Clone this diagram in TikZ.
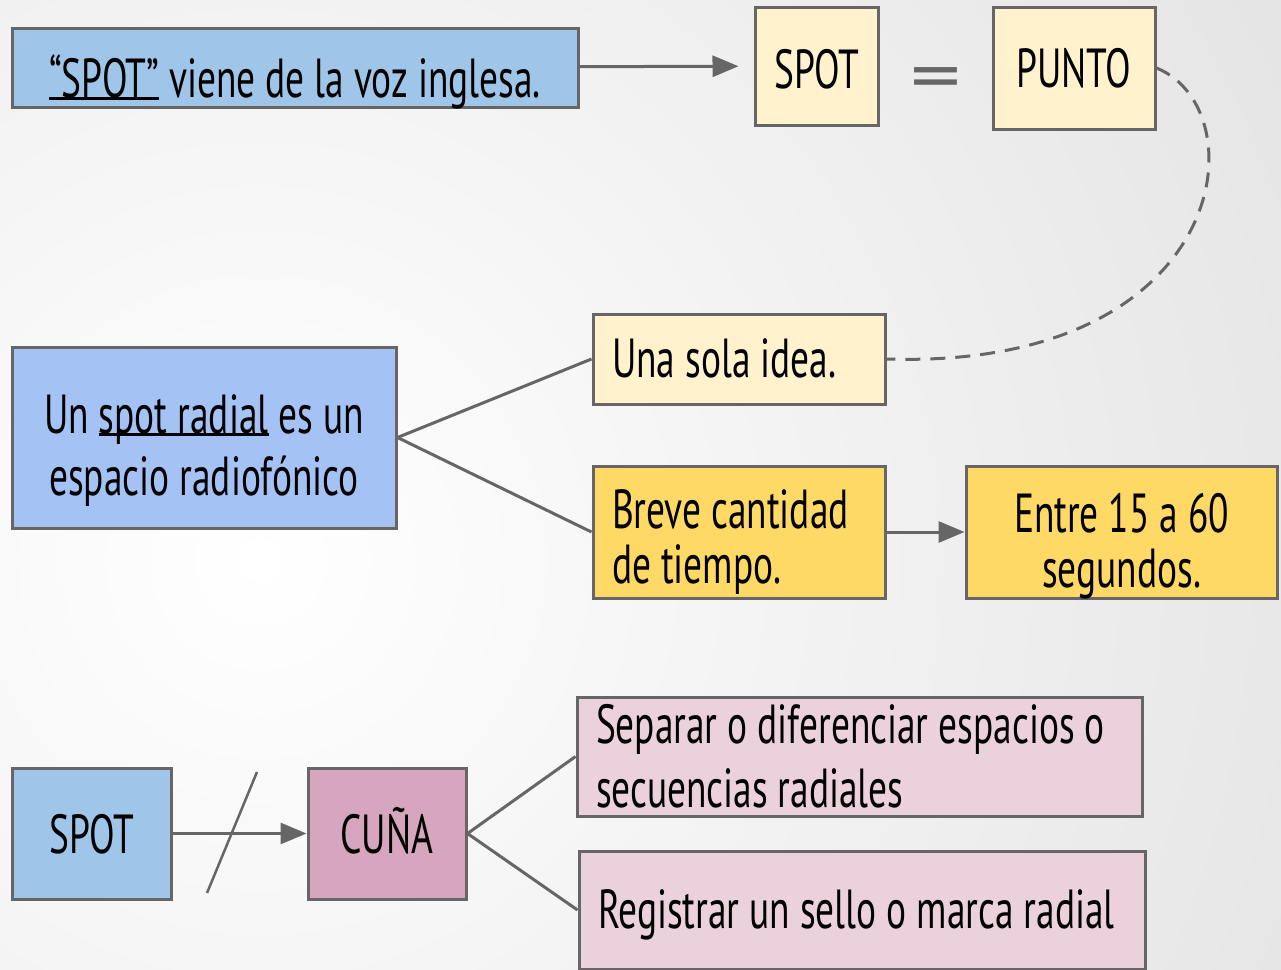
\documentclass[tikz,border=0pt]{standalone}
\usepackage{fontspec}
\setmainfont{PT Sans}[FakeStretch=0.68]
\usetikzlibrary{positioning, arrows.meta}

\definecolor{lightblue}{HTML}{9FC5E8}
\definecolor{paleblue}{HTML}{A4C2F4}
\definecolor{cream}{HTML}{FFF2CC}
\definecolor{gold}{HTML}{FFD966}
\definecolor{rose}{HTML}{D5A6BD}
\definecolor{palerose}{HTML}{EAD1DC}
\definecolor{edgegray}{HTML}{666666}
\definecolor{bggray}{HTML}{C4C4C4}

% thick underline close to the baseline
\newcommand{\spotul}[1]{\setbox0\hbox{#1}\rlap{\rule[-2.5pt]{\wd0}{3pt}}\box0\relax}

\begin{document}
\begin{tikzpicture}[x=1pt, y=-1pt]
            % Block styles
            \tikzstyle{block} = [rectangle, draw=edgegray, line width=3pt, inner sep=0pt, text centered, font=\fontsize{55}{62}\selectfont]
            \tikzstyle{leftblock} = [block, inner xsep=19pt, align=flush left]
            \tikzstyle{link} = [draw=edgegray, line width=3pt]
            \tikzstyle{arrow} = [link, -{Triangle[length=26pt, width=21pt]}]

            % Background
            \useasboundingbox (0,0) rectangle (1281,969);
            \begin{scope}
                \clip (0,0) rectangle (1281,969);
                \shade[inner color=white, outer color=bggray] (260,560) circle (2600pt);
            \end{scope}

            % Top row
            \node[block, fill=lightblue, minimum width=566pt, minimum height=79pt, text height=69pt, text depth=10pt] (origin) at (295,67.5) {\spotul{“SPOT”} viene de la voz inglesa.};
            \node[block, fill=cream, minimum width=123pt, minimum height=118pt, text height=44pt, text depth=0pt] (spot1) at (816.5,66) {SPOT};
            \node[font=\fontsize{55}{62}\selectfont, text=edgegray] (equals) at (936,85) {\scalebox{2.7}[1.35]{=}};
            \node[block, fill=cream, minimum width=162pt, minimum height=122pt, text height=38pt, text depth=0pt] (punto) at (1074,68) {PUNTO};

            % Definition
            \node[block, fill=paleblue, minimum width=384pt, minimum height=181pt, align=center, text height=128pt, text depth=13pt] (definition) at (204,437.5) {Un \spotul{spot radial} es un\\espacio radiofónico};
            \node[leftblock, fill=cream, text width=254pt, minimum height=90pt, text height=49pt, text depth=13pt] (idea) at (739,359) {Una sola idea.};
            \node[leftblock, fill=gold, text width=254pt, minimum height=132pt, text height=60pt, text depth=68pt, font=\fontsize{55}{55}\selectfont] (brief) at (739,532) {Breve cantidad\\de tiempo.};
            \node[block, fill=gold, minimum width=311pt, minimum height=132pt, align=center, text height=120pt, text depth=10pt, font=\fontsize{55}{55}\selectfont] (seconds) at (1121.5,532) {Entre 15 a 60\\segundos.};

            % Bottom row
            \node[block, fill=lightblue, minimum width=159pt, minimum height=131pt, text height=40pt, text depth=0pt] (spot2) at (91.5,833.5) {SPOT};
            \node[block, fill=rose, minimum width=158pt, minimum height=131pt, text height=40pt, text depth=0pt] (cuna) at (387,833.5) {CUÑA};
            \node[leftblock, fill=palerose, text width=527pt, minimum height=119pt, text height=39pt, text depth=66pt, font=\fontsize{55}{64}\selectfont] (separate) at (859.5,756.5) {Separar o diferenciar espacios o\\secuencias radiales};
            \node[leftblock, fill=palerose, text width=528pt, minimum height=118pt, text height=50pt, text depth=14pt] (register) at (862,910) {Registrar un sello o marca radial};

            % Slash across the spot-cuna arrow
            \coordinate (slash_top) at (257,772);
            \coordinate (slash_bottom) at (207,893);

            % Connections
            \draw[arrow, shorten >=15pt] (origin) -- (spot1);
            \draw[link, dash pattern=on 15pt off 10pt] (punto.east) .. controls (1260,110) and (1230,370) .. (idea.east);

            \draw[link] (definition.east) -- (idea.west);
            \draw[link] (definition.east) -- (brief.west);
            \draw[arrow] (brief) -- (seconds);

            \draw[arrow] (spot2) -- (cuna);
            \draw[link, line width=2.5pt] (slash_bottom) -- (slash_top);
            \draw[link] (cuna.east) -- (separate.west);
            \draw[link] (cuna.east) -- (register.west);
        \end{tikzpicture}
\end{document}
